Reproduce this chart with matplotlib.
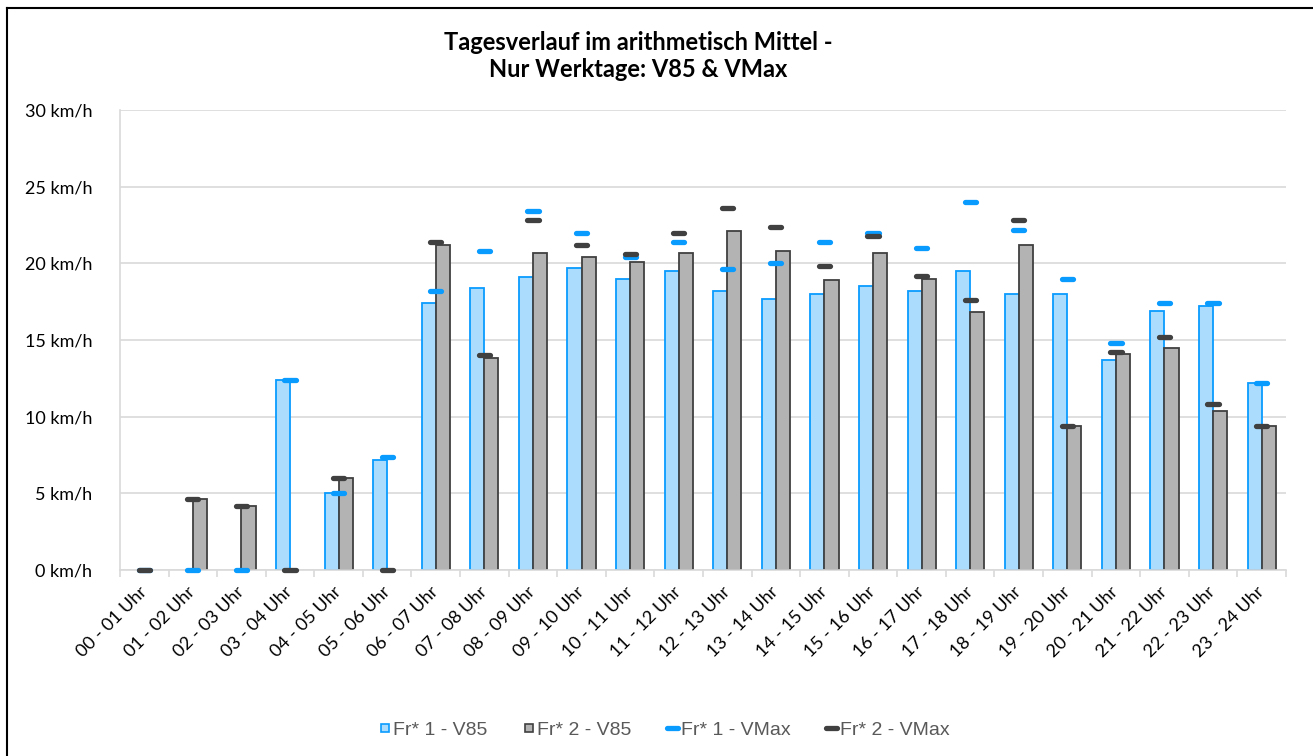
import numpy as np
import matplotlib.pyplot as plt
from matplotlib.lines import Line2D

# --- Daten ---
stunden = ["00 - 01 Uhr", "01 - 02 Uhr", "02 - 03 Uhr", "03 - 04 Uhr", "04 - 05 Uhr",
           "05 - 06 Uhr", "06 - 07 Uhr", "07 - 08 Uhr", "08 - 09 Uhr", "09 - 10 Uhr",
           "10 - 11 Uhr", "11 - 12 Uhr", "12 - 13 Uhr", "13 - 14 Uhr", "14 - 15 Uhr",
           "15 - 16 Uhr", "16 - 17 Uhr", "17 - 18 Uhr", "18 - 19 Uhr", "19 - 20 Uhr",
           "20 - 21 Uhr", "21 - 22 Uhr", "22 - 23 Uhr", "23 - 24 Uhr"]

fr1_v85 = [0, 0, 0, 12.4, 5.0, 7.2, 17.4, 18.4, 19.1, 19.7, 19.0, 19.5,
           18.2, 17.7, 18.0, 18.5, 18.2, 19.5, 18.0, 18.0, 13.7, 16.9, 17.2, 12.2]
fr2_v85 = [0, 4.6, 4.2, 0, 6.0, 0, 21.2, 13.8, 20.7, 20.4, 20.1, 20.7,
           22.1, 20.8, 18.9, 20.7, 19.0, 16.8, 21.2, 9.4, 14.1, 14.5, 10.4, 9.4]
fr1_vmax = [0, 0, 0, 12.4, 5.0, 7.4, 18.2, 20.8, 23.4, 22.0, 20.4, 21.4,
            19.6, 20.0, 21.4, 22.0, 21.0, 24.0, 22.2, 19.0, 14.8, 17.4, 17.4, 12.2]
fr2_vmax = [0, 4.6, 4.2, 0, 6.0, 0, 21.4, 14.0, 22.8, 21.2, 20.6, 22.0,
            23.6, 22.4, 19.8, 21.8, 19.2, 17.6, 22.8, 9.4, 14.2, 15.2, 10.8, 9.4]

blau = "#0a9bff"
blau_hell = "#abdcfd"
grau = "#b3b3b3"
dunkel = "#404040"

x = np.arange(len(stunden))
bw = 0.29
mk = 0.115

fig = plt.figure(figsize=(13.13, 7.56), dpi=100)
ax = fig.add_axes([0.0914, 0.246, 0.888, 0.6085])

b1 = ax.bar(x - bw / 2, fr1_v85, bw, color=blau_hell, edgecolor=blau, linewidth=1.3, zorder=2)
b2 = ax.bar(x + bw / 2, fr2_v85, bw, color=grau, edgecolor=dunkel, linewidth=1.3, zorder=2)
# Balken mit Wert 0 nicht zeichnen
for rects in (b1, b2):
    for r in rects:
        if r.get_height() == 0:
            r.set_visible(False)

ax.hlines(fr1_vmax, x - mk, x + mk, colors=blau, linewidth=3.8, capstyle="round",
          zorder=3, clip_on=False)
ax.hlines(fr2_vmax, x - mk, x + mk, colors=dunkel, linewidth=3.8, capstyle="round",
          zorder=4, clip_on=False)

ax.set_ylim(0, 30)
ax.set_xlim(-0.5, len(stunden) - 0.5)
ax.set_yticks(range(0, 31, 5))
ax.set_yticklabels([f"{v} km/h" for v in range(0, 31, 5)], fontsize=13, family="Lato")
ax.set_xticks(x)
ax.set_xticklabels(stunden, rotation=45, ha="right", va="center", rotation_mode="anchor",
                   fontsize=13, family="Lato")
ax.set_xticks(np.arange(-0.5, len(stunden)), minor=True)
ax.tick_params(axis="x", which="major", length=0, pad=14)
ax.tick_params(axis="x", which="minor", length=5, color="#d9d9d9", width=1.2)
ax.tick_params(axis="y", length=0, pad=20)
ax.grid(axis="y", color="#d9d9d9", linewidth=1.2, zorder=0)
ax.set_axisbelow(True)
for s in ["top", "right"]:
    ax.spines[s].set_visible(False)
for s in ["left", "bottom"]:
    ax.spines[s].set_color("#d9d9d9")
    ax.spines[s].set_linewidth(1.2)

fig.text(0.486, 0.926, "Tagesverlauf im arithmetisch Mittel -\nNur Werktage: V85 & VMax",
         ha="center", va="center", fontsize=17, fontweight="bold", family="Lato",
         linespacing=1.2)

handles = [Line2D([], [], linestyle="none", marker="s", markersize=6,
                  markerfacecolor=blau_hell, markeredgecolor=blau, markeredgewidth=1.2),
           Line2D([], [], linestyle="none", marker="s", markersize=6,
                  markerfacecolor=grau, markeredgecolor=dunkel, markeredgewidth=1.2),
           Line2D([], [], color=blau, linewidth=3.8, solid_capstyle="round"),
           Line2D([], [], color=dunkel, linewidth=3.8, solid_capstyle="round")]
labels = ["Fr* 1 - V85", "Fr* 2 - V85", "Fr* 1 - VMax", "Fr* 2 - VMax"]
fig.legend(handles, labels, loc="center", bbox_to_anchor=(0.506, 0.034), ncol=4,
           frameon=False, handlelength=0.55, handletextpad=0.15,
           columnspacing=1.85, prop={"family": "Liberation Sans", "size": 14},
           labelcolor="#595959")

# Rahmen links und oben
fig.add_artist(Line2D([0.0055, 0.0055], [0, 0.989], color="black", linewidth=1.5,
                      transform=fig.transFigure))
fig.add_artist(Line2D([0.0055, 1], [0.989, 0.989], color="black", linewidth=1.5,
                      transform=fig.transFigure))

fig.savefig("out.png", dpi=100)
